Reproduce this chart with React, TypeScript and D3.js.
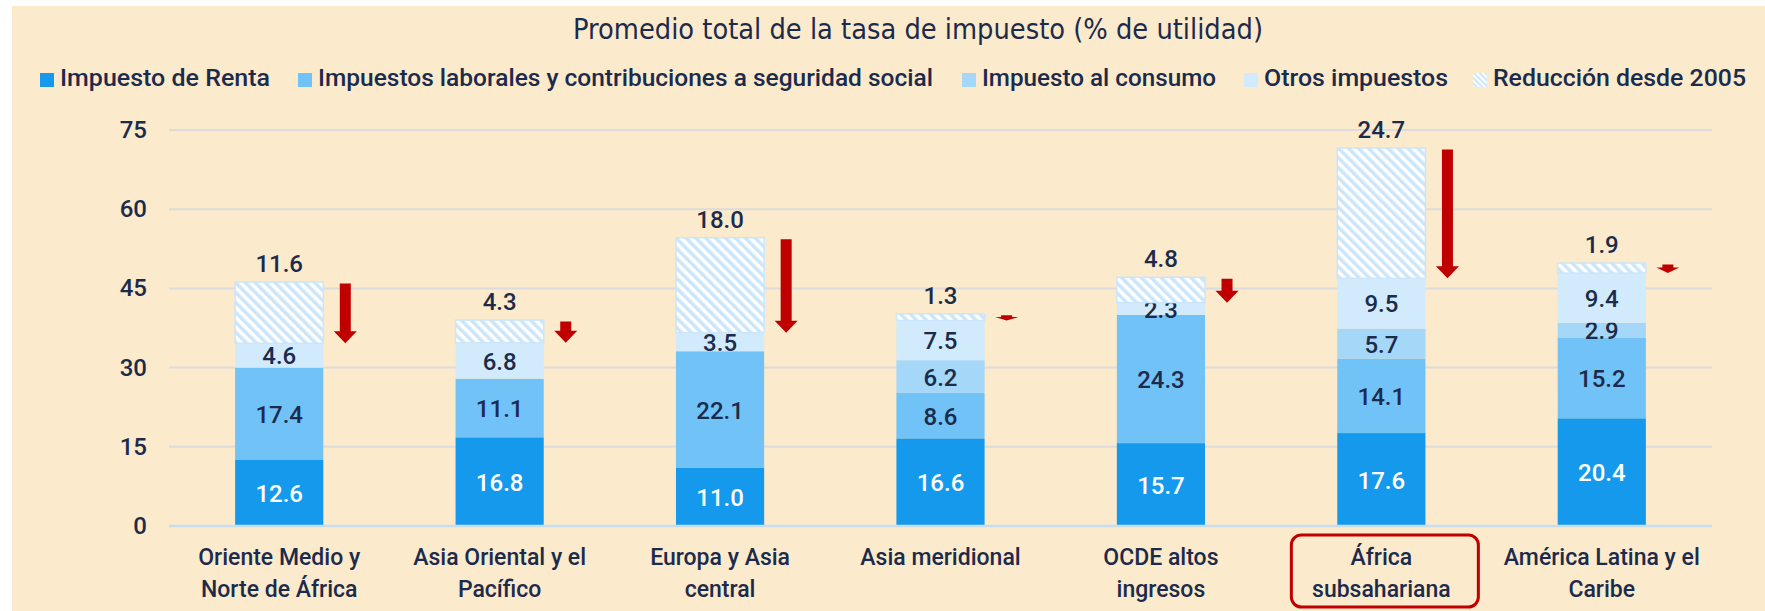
import React from "react";
import * as d3 from "d3";

const categoryLines: string[][] = [
  ["Oriente Medio y", "Norte de África"],
  ["Asia Oriental y el", "Pacífico"],
  ["Europa y Asia", "central"],
  ["Asia meridional"],
  ["OCDE altos", "ingresos"],
  ["África", "subsahariana"],
  ["América Latina y el", "Caribe"],
];
const renta = [12.6, 16.8, 11.0, 16.6, 15.7, 17.6, 20.4];
const laborales = [17.4, 11.1, 22.1, 8.6, 24.3, 14.1, 15.2];
const consumo = [0, 0, 0, 6.2, 0, 5.7, 2.9];
const otros = [4.6, 6.8, 3.5, 7.5, 2.3, 9.5, 9.4];
const reduccion = [11.6, 4.3, 18.0, 1.3, 4.8, 24.7, 1.9];
const yTicks = [0, 15, 30, 45, 60, 75];
const legendLabels = [
  "Impuesto de Renta",
  "Impuestos laborales y contribuciones a seguridad social",
  "Impuesto al consumo",
  "Otros impuestos",
  "Reducción desde 2005",
];
const highlightIndex = 5;
const title = "Promedio total de la tasa de impuesto (% de utilidad)";

const W = 1765;
const H = 611;
const BG = "#FBEACB";
const NAVY = "#1C2B4B";
const RED = "#C00000";
const segColors = ["#1599EC", "#70C2F7", "#A5D7F8", "#D2EBFC"];
const HATCH = "#CBE6FA";
const NUM_FONT = "Roboto, 'DejaVu Sans', sans-serif";
const TITLE_FONT = "'DejaVu Sans Condensed', 'Liberation Sans Narrow', sans-serif";

export default function App() {
  const idx = d3.range(categoryLines.length);
  const x = d3
    .scaleBand<number>()
    .domain(idx)
    .range([169, 1712])
    .paddingInner(0.6)
    .paddingOuter(0.3);
  const y = d3.scaleLinear().domain([0, 75]).range([526, 130]);
  const bw = x.bandwidth();

  const series = [renta, laborales, consumo, otros];
  const stackData = idx.map((i) => ({
    renta: renta[i],
    laborales: laborales[i],
    consumo: consumo[i],
    otros: otros[i],
    reduccion: reduccion[i],
  }));
  const keys = ["renta", "laborales", "consumo", "otros", "reduccion"];
  const stacked = d3.stack<any>().keys(keys)(stackData);

  const legendX = [40, 298, 962, 1244, 1473];
  const legendW = [210, 615, 234, 184, 253];

  return (
    <svg
      width={W}
      height={H}
      style={{ position: "absolute", left: 0, top: 0, display: "block" }}
    >
      <defs>
        <pattern
          id="hatch"
          patternUnits="userSpaceOnUse"
          width={7}
          height={7}
          patternTransform="rotate(-45)"
        >
          <rect width={7} height={7} fill="#FFFFFF" />
          <rect width={3.5} height={7} fill={HATCH} />
        </pattern>
        <pattern
          id="hatchSmall"
          patternUnits="userSpaceOnUse"
          width={4}
          height={4}
          patternTransform="rotate(-45)"
        >
          <rect width={4} height={4} fill="#FFFFFF" />
          <rect width={2} height={4} fill={HATCH} />
        </pattern>
      </defs>
      <rect x={0} y={0} width={W} height={H} fill="#FFFFFF" />
      <rect x={12} y={6} width={W - 12} height={H - 6} fill={BG} />

      <text
        x={573}
        y={39}
        textLength={690}
        lengthAdjust="spacingAndGlyphs"
        fontFamily={TITLE_FONT}
        fontSize={29}
        fill={NAVY}
      >
        {title}
      </text>

      {legendLabels.map((lab, k) => (
        <g key={lab} transform={`translate(${legendX[k]},0)`}>
          <rect
            x={0}
            y={73}
            width={14}
            height={14}
            fill={k < 4 ? segColors[k] : "url(#hatchSmall)"}
          />
          <text
            x={20}
            y={86}
            textLength={legendW[k]}
            lengthAdjust="spacingAndGlyphs"
            fontFamily={NUM_FONT}
            fontSize={24}
            fontWeight={500}
            fill={NAVY}
          >
            {lab}
          </text>
        </g>
      ))}

      {yTicks.map((t) => (
        <g key={t}>
          {t > 0 && (
            <line
              x1={169}
              x2={1712}
              y1={y(t)}
              y2={y(t)}
              stroke="#DCDCDC"
              strokeWidth={2}
            />
          )}
          <text
            x={147}
            y={y(t)}
            textAnchor="end"
            dominantBaseline="central"
            fontFamily={NUM_FONT}
            fontWeight={500}
            fontSize={24}
            fill={NAVY}
          >
            {t}
          </text>
        </g>
      ))}

      {stacked.map((layer, k) =>
        layer.map((d, i) => {
          const v = d[1] - d[0];
          if (v <= 0) return null;
          const x0 = x(i)!;
          const yTop = y(d[1]);
          const h = y(d[0]) - y(d[1]);
          const isHatch = k === 4;
          return (
            <g key={`${k}-${i}`}>
              <rect
                x={x0}
                y={yTop}
                width={bw}
                height={h}
                fill={isHatch ? "url(#hatch)" : segColors[k]}
                stroke={isHatch ? HATCH : "none"}
                strokeWidth={isHatch ? 1.5 : 0}
              />
              {!isHatch && (
                <text
                  x={x0 + bw / 2}
                  y={yTop + h / 2 + 1}
                  textAnchor="middle"
                  dominantBaseline="central"
                  fontFamily={NUM_FONT}
                  fontWeight={500}
                  fontSize={24}
                  fill={k === 0 ? "#FFFFFF" : NAVY}
                >
                  {v.toFixed(1)}
                </text>
              )}
              {isHatch && (
                <text
                  x={x0 + bw / 2}
                  y={yTop - 18}
                  textAnchor="middle"
                  dominantBaseline="central"
                  fontFamily={NUM_FONT}
                  fontWeight={500}
                  fontSize={24}
                  fill={NAVY}
                >
                  {v.toFixed(1)}
                </text>
              )}
            </g>
          );
        })
      )}

      <line
        x1={169}
        x2={1712}
        y1={y(0)}
        y2={y(0)}
        stroke="#C9DDF1"
        strokeWidth={2.5}
      />

      {idx.map((i) => {
        const topVal = d3.sum(series, (s) => s[i]) + reduccion[i];
        const curVal = d3.sum(series, (s) => s[i]);
        const cx = x(i)! + bw + 22;
        const yT = y(topVal) + 1.5;
        const yB = y(curVal);
        const len = yB - yT;
        const headH = Math.min(12, len * 0.65);
        const sw = 5.5;
        const hw = 11.5;
        const path = d3.path();
        path.moveTo(cx - sw, yT);
        path.lineTo(cx + sw, yT);
        path.lineTo(cx + sw, yB - headH);
        path.lineTo(cx + hw, yB - headH);
        path.lineTo(cx, yB);
        path.lineTo(cx - hw, yB - headH);
        path.lineTo(cx - sw, yB - headH);
        path.closePath();
        return <path key={i} d={path.toString()} fill={RED} />;
      })}

      {categoryLines.map((lines, i) => {
        const cx = x(i)! + bw / 2;
        return (
          <text
            key={i}
            x={cx}
            textAnchor="middle"
            fontFamily={NUM_FONT}
            fontWeight={500}
            fontSize={23}
            fill={NAVY}
          >
            {lines.map((ln, j) => (
              <tspan key={j} x={cx} y={565 + j * 32}>
                {ln}
              </tspan>
            ))}
          </text>
        );
      })}

      {(() => {
        const cx = x(highlightIndex)! + bw / 2 + 3;
        return (
          <rect
            x={cx - 93}
            y={535}
            width={187}
            height={72}
            rx={10}
            fill="none"
            stroke={RED}
            strokeWidth={3}
          />
        );
      })()}
    </svg>
  );
}
